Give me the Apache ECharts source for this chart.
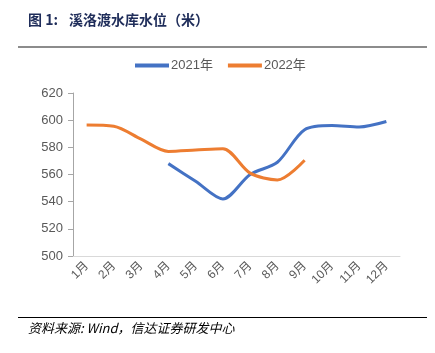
<!DOCTYPE html>
<html>
<head>
<meta charset="utf-8">
<script src="https://cdn.jsdelivr.net/npm/echarts@6/dist/echarts.min.js"></script>
<style>
  html, body { margin: 0; padding: 0; background: #fff; }
  #chart { width: 435px; height: 353px; }
</style>
</head>
<body>
<div id="chart"></div>
<script>
// 月份
const months = ['1月', '2月', '3月', '4月', '5月', '6月', '7月', '8月', '9月', '10月', '11月', '12月'];
// 溪洛渡水库水位（米）
const level2021 = [null, null, null, 568, 555, 542, 560, 569, 593, 596, 595, 599];
const level2022 = [596.5, 595.6, 586, 577, 578, 579, 561, 556, 570.5, null, null, null];
const yTicks = [500, 520, 540, 560, 580, 600, 620];

const chart = echarts.init(document.getElementById('chart'));
const font = '"Noto Sans CJK SC", "Liberation Sans", sans-serif';
const latinFont = '"Liberation Sans", "Noto Sans CJK SC", sans-serif';

const option = {
  animation: false,
  color: ['#4472C4', '#ED7D31'],
  textStyle: { fontFamily: font },
  graphic: [
    {
      type: 'text', left: 28, top: 13,
      style: { text: '图 1:', font: 'bold 14px ' + font, fill: '#1F2D5A' }
    },
    {
      type: 'text', left: 69, top: 13,
      style: { text: '溪洛渡水库水位（米）', font: 'bold 14px ' + font, fill: '#1F2D5A' }
    },
    { type: 'rect', shape: { x: 18, y: 46, width: 409, height: 2 }, style: { fill: '#8C8C8C' } },
    { type: 'rect', shape: { x: 18, y: 317, width: 409, height: 1 }, style: { fill: '#000' } },
    {
      type: 'text', left: 28, top: 322,
      style: { text: '资料来源: Wind，信达证券研发中心', font: 'italic 13px ' + font, fill: '#000' }
    }
  ],
  legend: {
    top: 54,
    left: 130,
    itemWidth: 34,
    itemHeight: 4,
    itemGap: 15,
    icon: 'rect',
    textStyle: { color: '#595959', fontSize: 13, fontFamily: latinFont, padding: [0, 0, 0, -3] },
    data: ['2021年', '2022年']
  },
  grid: { left: 73, right: 35, top: 93, bottom: 97, containLabel: false },
  xAxis: {
    type: 'category',
    data: months,
    boundaryGap: true,
    axisLine: { lineStyle: { color: '#D9D9D9', width: 1 } },
    axisTick: { show: false },
    axisLabel: { rotate: 45, color: '#595959', fontSize: 12, margin: 8, interval: 0, fontFamily: latinFont }
  },
  yAxis: {
    type: 'value',
    min: yTicks[0],
    max: yTicks[yTicks.length - 1],
    interval: 20,
    axisLine: { show: true, lineStyle: { color: '#A6A6A6' } },
    axisTick: { show: true, length: 5, lineStyle: { color: '#A6A6A6' } },
    splitLine: { show: false },
    axisLabel: { color: '#595959', fontSize: 13, margin: 10, fontFamily: latinFont }
  },
  series: [
    {
      name: '2021年', type: 'line', data: level2021, smooth: 0.3,
      showSymbol: false, symbol: 'none', lineStyle: { width: 3 }
    },
    {
      name: '2022年', type: 'line', data: level2022, smooth: 0.3,
      showSymbol: false, symbol: 'none', lineStyle: { width: 3 }
    }
  ]
};

chart.setOption(option);
</script>
</body>
</html>
